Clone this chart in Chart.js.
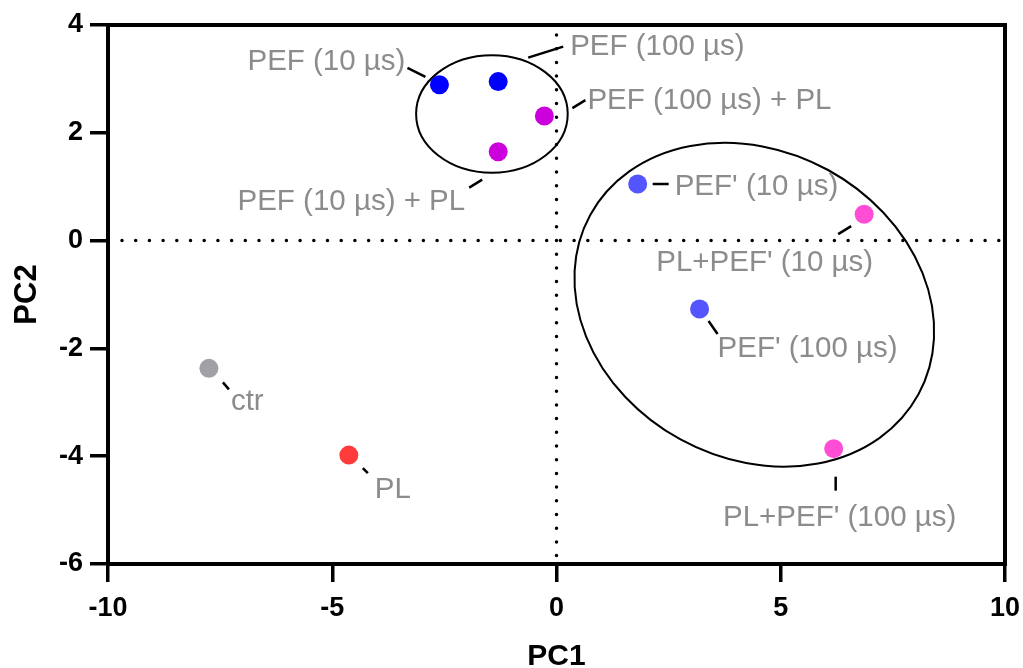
<!DOCTYPE html>
<html>
<head>
<meta charset="utf-8">
<title>PCA</title>
<script src="https://cdn.jsdelivr.net/npm/chart.js@4.4.1/dist/chart.umd.min.js"></script>
<style>
  html, body { margin: 0; padding: 0; background: #fff; }
  #graphique { display: block; }
</style>
</head>
<body>
<canvas id="graphique" width="1023" height="668"></canvas>
<script>
// samples
const labels = ["PEF (10 µs)", "PEF (100 µs)", "PEF (100 µs) + PL", "PEF (10 µs) + PL",
                "PEF' (10 µs)", "PL+PEF' (10 µs)", "PEF' (100 µs)", "PL+PEF' (100 µs)", "ctr", "PL"];
const pc1 = [-2.61, -1.30, -0.27, -1.30, 1.81, 6.86, 3.19, 6.18, -7.75, -4.63];
const pc2 = [2.89, 2.95, 2.31, 1.65, 1.05, 0.49, -1.27, -3.86, -2.37, -3.98];
const couleurs = ["#0000ff", "#0000ff", "#cc00dd", "#cc00dd", "#5555ff", "#ff4dd6", "#5555ff", "#ff4dd6", "#a0a0a6", "#ff3b3b"];

// group ellipses (data units, rotation in degrees)
const ellipseX = [-1.44, 4.41];
const ellipseY = [2.35, -1.19];
const ellipseRx = [1.69, 4.17];
const ellipseRy = [1.09, 2.85];
const ellipseRot = [0, 28.7];

// label placement in px relative to the point: text anchor, align, leader line
const etiquettes = [
  { dx: -34, dy: -23, align: "right",  l: [-32, -17, -14, -8] },
  { dx: 72,  dy: -35, align: "left",   l: [30, -24, 65, -35] },
  { dx: 43,  dy: -15, align: "left",   l: [28, -8, 41, -16] },
  { dx: -33, dy: 50,  align: "right",  l: [-29, 36, -16, 28] },
  { dx: 37,  dy: 3,   align: "left",   l: [15, 0, 31, 0] },
  { dx: 9,   dy: 49,  align: "right",  l: [-26, 20, -13, 12] },
  { dx: 18,  dy: 40,  align: "left",   l: [9, 12, 18, 25] },
  { dx: 6,   dy: 69,  align: "center", l: [2, 28, 2, 42] },
  { dx: 22,  dy: 34,  align: "left",   l: [14, 14, 20, 21] },
  { dx: 26,  dy: 35,  align: "left",   l: [14, 13, 19, 18] }
];

const points = pc1.map((x, i) => ({ x: x, y: pc2[i] }));

const decor = {
  id: "decor",
  beforeDatasetsDraw(chart) {
    const { ctx, chartArea: a, scales: { x, y } } = chart;
    ctx.save();
    // dotted zero lines
    ctx.strokeStyle = "#000";
    ctx.lineWidth = 3.5;
    ctx.lineCap = "round";
    ctx.setLineDash([0, 13.7]);
    const x0 = x.getPixelForValue(0), y0 = y.getPixelForValue(0);
    ctx.beginPath();
    ctx.moveTo(a.left + 14, y0); ctx.lineTo(a.right - 4, y0);
    ctx.moveTo(x0, a.top + 10); ctx.lineTo(x0, a.bottom - 4);
    ctx.stroke();
    ctx.setLineDash([]);

    // ellipses
    const sx = Math.abs(x.getPixelForValue(1) - x.getPixelForValue(0));
    const sy = Math.abs(y.getPixelForValue(1) - y.getPixelForValue(0));
    ctx.lineWidth = 2;
    ellipseX.forEach((cx, i) => {
      ctx.beginPath();
      ctx.ellipse(x.getPixelForValue(cx), y.getPixelForValue(ellipseY[i]),
        ellipseRx[i] * sx, ellipseRy[i] * sy, ellipseRot[i] * Math.PI / 180, 0, Math.PI * 2);
      ctx.stroke();
    });

    // frame top and right
    ctx.lineWidth = 4;
    ctx.lineCap = "square";
    ctx.beginPath();
    ctx.moveTo(a.left, a.top); ctx.lineTo(a.right, a.top); ctx.lineTo(a.right, a.bottom);
    ctx.stroke();
    ctx.restore();
  },
  afterDatasetsDraw(chart) {
    const { ctx, scales: { x, y } } = chart;
    ctx.save();
    ctx.font = "29.5px 'Liberation Sans', Arial, sans-serif";
    ctx.textBaseline = "middle";
    labels.forEach((txt, i) => {
      const px = x.getPixelForValue(pc1[i]), py = y.getPixelForValue(pc2[i]);
      const e = etiquettes[i];
      ctx.strokeStyle = "#000";
      ctx.lineWidth = 2.5;
      ctx.beginPath();
      ctx.moveTo(px + e.l[0], py + e.l[1]);
      ctx.lineTo(px + e.l[2], py + e.l[3]);
      ctx.stroke();
      ctx.fillStyle = "#8c8c8c";
      ctx.textAlign = e.align;
      ctx.fillText(txt, px + e.dx, py + e.dy);
    });
    ctx.restore();
  }
};

const ctx = document.getElementById("graphique").getContext("2d");

new Chart(ctx, {
  type: "scatter",
  data: {
    datasets: [{
      data: points,
      pointRadius: 9.5,
      pointHoverRadius: 9.5,
      pointBorderWidth: 0,
      pointBackgroundColor: couleurs,
      pointBorderColor: couleurs
    }]
  },
  options: {
    responsive: false,
    animation: false,
    layout: { padding: { top: 25, right: 18, left: 0, bottom: 0 } },
    plugins: { legend: { display: false }, tooltip: { enabled: false } },
    scales: {
      x: {
        type: "linear",
        min: -10, max: 10,
        afterFit: s => { s.height = 104; s.paddingLeft = 0; s.paddingRight = 0; },
        ticks: { stepSize: 5, color: "#000", padding: 10, font: { size: 27, weight: "bold", family: "'Liberation Sans', Arial" } },
        grid: { drawOnChartArea: false, drawTicks: true, tickLength: 18, lineWidth: 3.5, color: "#000" },
        border: { display: true, width: 4, color: "#000" },
        title: { display: true, text: "PC1", color: "#000", padding: { top: 0, bottom: -4 },
                 font: { size: 30, weight: "bold", family: "'Liberation Sans', Arial", lineHeight: 1 } }
      },
      y: {
        type: "linear",
        min: -6, max: 4,
        afterFit: s => { s.width = 108; s.paddingTop = 0; s.paddingBottom = 0; },
        ticks: { stepSize: 2, color: "#000", padding: 7, font: { size: 27, weight: "bold", family: "'Liberation Sans', Arial" } },
        grid: { drawOnChartArea: false, drawTicks: true, tickLength: 18, lineWidth: 3.5, color: "#000" },
        border: { display: true, width: 4, color: "#000" },
        title: { display: true, text: "PC2", color: "#000", padding: { top: 12, bottom: 0 },
                 font: { size: 31, weight: "bold", family: "'Liberation Sans', Arial", lineHeight: 1 } }
      }
    }
  },
  plugins: [decor]
});
</script>
</body>
</html>
